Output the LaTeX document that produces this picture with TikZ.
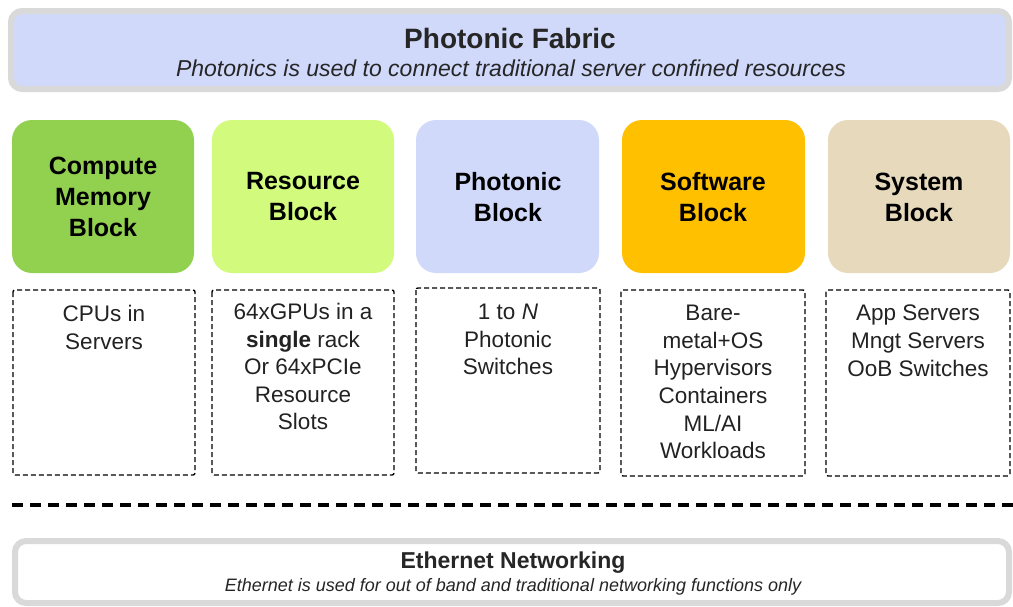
\documentclass[tikz,border=0pt]{standalone}
\usepackage{fontspec}
\setmainfont{Liberation Sans}
\definecolor{fabric}{HTML}{D1D9FB}
\definecolor{rimgray}{HTML}{D9D9D9}
\definecolor{cmpgreen}{HTML}{92D050}
\definecolor{resgreen}{HTML}{D2FA7C}
\definecolor{softorange}{HTML}{FFC000}
\definecolor{sysbeige}{HTML}{E6D9BC}
\definecolor{inktext}{HTML}{222222}
\tikzset{
  banner/.style={draw=rimgray, line width=6pt, rounded corners=11pt},
  block/.style={rounded corners=20pt},
  blocktext/.style={font=\fontsize{25}{31}\selectfont\bfseries, align=center, inner sep=0pt, text=black},
  dashbox/.style={draw=black, line width=1.4pt, dash pattern=on 5pt off 3pt, rounded corners=2pt},
  boxtext/.style={font=\fontsize{22.5}{27.6}\selectfont, align=center, inner sep=0pt, anchor=north, text=inktext},
}
\begin{document}
\begin{tikzpicture}[x=1pt,y=-1pt]
\useasboundingbox (0,0) rectangle (1013,606);
% top banner
\draw[banner, fill=fabric] (11,11) rectangle (1009,89);
\node[inner sep=0pt, font=\fontsize{28}{32}\selectfont\bfseries, text=black!85] (ftitle) at (510,38) {Photonic Fabric};
\node[inner sep=0pt, font=\fontsize{23}{27}\selectfont\itshape, text=black!85] (fsub) at (511,68) {Photonics is used to connect traditional server confined resources};
% colored blocks
\fill[block, cmpgreen] (12,120) rectangle (194,273);
\fill[block, resgreen] (212,120) rectangle (394,273);
\fill[block, fabric] (416,120) rectangle (599,273);
\fill[block, softorange] (622,120) rectangle (805,273);
\fill[block, sysbeige] (828,120) rectangle (1010,273);
\node[blocktext] (b1) at (103,197) {Compute\\Memory\\Block};
\node[blocktext] (b2) at (303,197) {Resource\\Block};
\node[blocktext] (b3) at (508,197) {Photonic\\Block};
\node[blocktext] (b4) at (713,197) {Software\\Block};
\node[blocktext] (b5) at (919,197) {System\\Block};
% dashed boxes
\draw[dashbox] (13,290) rectangle (195,475);
\draw[dashbox] (212,290) rectangle (394,475);
\draw[dashbox] (416,288) rectangle (600,473);
\draw[dashbox] (621,290) rectangle (805,476);
\draw[dashbox] (826,290) rectangle (1010,476);
\node[boxtext] (t1) at (104,305) {CPUs in\\Servers};
\node[boxtext] (t2) at (303,303) {64xGPUs in a\\\textbf{single} rack\\Or 64xPCIe\\Resource\\Slots};
\node[boxtext] (t3) at (508,304) {1 to \textit{N}\\Photonic\\Switches};
\node[boxtext] (t4) at (713,305) {Bare-\\metal+OS\\Hypervisors\\Containers\\ML/AI\\Workloads};
\node[boxtext] (t5) at (918,305) {App Servers\\Mngt Servers\\OoB Switches};
% separator
\coordinate (sepL) at (12,505);
\coordinate (sepR) at (1013,505);
\draw[line width=4pt, dash pattern=on 11pt off 7pt] (sepL) -- (sepR);
% bottom banner
\draw[banner, fill=white] (15,541) rectangle (1009,603);
\node[inner sep=0pt, font=\fontsize{23}{27}\selectfont\bfseries, text=black!85] (etitle) at (513,563) {Ethernet Networking};
\node[inner sep=0pt, font=\fontsize{18}{21}\selectfont\itshape, text=black!85] (esub) at (513,587) {Ethernet is used for out of band and traditional networking functions only};
\end{tikzpicture}
\end{document}
